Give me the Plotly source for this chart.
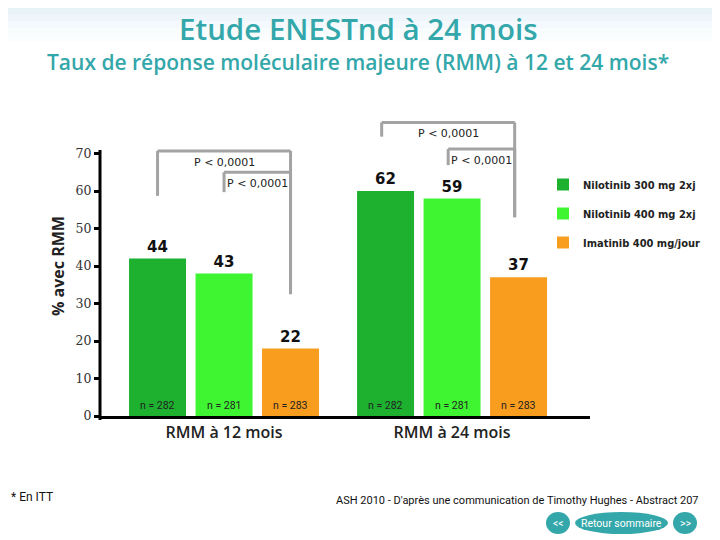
import plotly.graph_objects as go

# Données
categories = ["RMM à 12 mois", "RMM à 24 mois"]
series = ["Nilotinib 300 mg 2xj", "Nilotinib 400 mg 2xj", "Imatinib 400 mg/jour"]
colors = ["#1DB12F", "#3FF532", "#F99D1F"]
# hauteurs des barres telles que dessinées
heights = [
    [42, 60],
    [38, 58],
    [18, 37],
]
# valeurs affichées au-dessus des barres
labels = [
    ["44", "62"],
    ["43", "59"],
    ["22", "37"],
]
n_labels = [
    ["n = 282", "n = 282"],
    ["n = 281", "n = 281"],
    ["n = 283", "n = 283"],
]
p_text = "P < 0,0001"
y_ticks = [0, 10, 20, 30, 40, 50, 60, 70]

# mise en page : la page html décale la figure de 8 px (marge du body)
W, H = 720, 540
OFF = 8
PLOT_L, PLOT_R, PLOT_T, PLOT_B = 100, 590, 116, 416   # pixels de la référence
PW, PH = PLOT_R - PLOT_L, PLOT_B - PLOT_T
Y_MAX = 80
X_RANGE = [-0.544, 1.605]
BARGAP = 0.125
SLOT = (1 - BARGAP) / 3
TEAL = "#33A7AA"
GREY = "#A3A3A3"
NARROW = "Liberation Sans Narrow, Roboto"


def px_x(px):
    return (px - PLOT_L) / PW


def px_y(py):
    return (PLOT_B - py) / PH


def text_at(px, py, txt, font, xanchor="center"):
    return dict(x=px_x(px), y=px_y(py), xref="paper", yref="paper", text=txt,
                showarrow=False, xanchor=xanchor, yanchor="middle", font=font)


fig = go.Figure()
for i, name in enumerate(series):
    fig.add_trace(go.Bar(
        x=[0, 1], y=heights[i], name=name, marker_color=colors[i],
        marker_line_width=0, text=labels[i], textposition="outside",
        textfont=dict(size=15, color="#111111", family="DejaVu Sans", weight="bold"),
        cliponaxis=False, legendgroup=str(i),
    ))

annotations = []
shapes = []

# n = ... dans le bas des barres
for i in range(3):
    for g in range(2):
        annotations.append(dict(
            x=g + (i - 1) * SLOT, y=0, xref="x", yref="y", text=n_labels[i][g],
            showarrow=False, xanchor="center", yanchor="bottom", yshift=2,
            font=dict(size=10.5, color="#222222", family=NARROW),
        ))

# crochets de significativité : (groupe, barre gauche, haut, bas gauche, bas droit)
brackets = [
    (0, 0, 70.7, 58.7, 32.5),
    (0, 1, 65.0, 59.7, 32.5),
    (1, 0, 78.3, 74.5, 53.0),
    (1, 1, 71.2, 66.9, 53.0),
]
for g, i, top, lb, rb in brackets:
    x0 = g + (i - 1) * SLOT - 0.017 * g
    x1 = g + SLOT - 0.017 * g
    for xa, xb, ya, yb in [(x0, x0, lb, top), (x0, x1, top, top), (x1, x1, rb, top)]:
        shapes.append(dict(type="line", xref="x", yref="y", x0=xa, x1=xb, y0=ya, y1=yb,
                           line=dict(color=GREY, width=3)))
    annotations.append(dict(
        x=(x0 + x1) / 2, y=top, xref="x", yref="y", text=p_text, showarrow=False,
        xanchor="center", yanchor="top", yshift=-3,
        font=dict(size=11, color="#222222", family="DejaVu Sans"),
    ))

# axe vertical
shapes.append(dict(type="line", xref="paper", yref="paper", x0=0, x1=0,
                   y0=px_y(420), y1=px_y(150), line=dict(color="black", width=3)))

# dégradé léger en haut de page
for k, op in enumerate([0.5, 0.38, 0.27, 0.18, 0.1, 0.05]):
    shapes.append(dict(type="rect", xref="paper", yref="paper", layer="below",
                       x0=px_x(0), x1=px_x(W), y0=px_y(k * 7), y1=px_y(k * 7 + 7),
                       fillcolor="#BFDDF0", opacity=op, line=dict(width=0)))

# titres
title = text_at(358, 28.5, "Etude ENESTnd à 24 mois",
                dict(size=29.5, color=TEAL, family="Open Sans", weight=600))
title["borderpad"] = 0
annotations.append(title)
annotations.append(text_at(358, 62, "Taux de réponse moléculaire majeure (RMM) à 12 et 24 mois*",
                           dict(size=21, color=TEAL, family="Open Sans", weight=600)))

# pied de page
annotations.append(text_at(9, 497, "* En ITT",
                           dict(size=12, color="#111111", family=NARROW), xanchor="left"))
annotations.append(text_at(701, 500,
                           "ASH 2010 - D'après une communication de Timothy Hughes - Abstract 207",
                           dict(size=11, color="#111111", family=NARROW), xanchor="right"))

# boutons de navigation
buttons = [("<<", 546, 570), ("Retour sommaire", 575, 668), (">>", 673, 697)]
for txt, a, b in buttons:
    shapes.append(dict(type="circle", xref="paper", yref="paper",
                       x0=px_x(a), x1=px_x(b), y0=px_y(534), y1=px_y(512),
                       fillcolor=TEAL, line=dict(width=0)))
    annotations.append(text_at((a + b) / 2, 523, txt,
                               dict(size=10.5, color="white", family=NARROW)))

fig.update_layout(
    width=W, height=H,
    margin=dict(l=PLOT_L - OFF, r=W - PLOT_R + OFF, t=PLOT_T - OFF, b=H - PLOT_B + OFF, pad=0),
    plot_bgcolor="white", paper_bgcolor="white",
    barmode="group", bargap=BARGAP, bargroupgap=0.143,
    showlegend=True,
    legend=dict(x=px_x(543), y=px_y(170), xanchor="left", yanchor="top",
                bgcolor="rgba(0,0,0,0)", tracegroupgap=10, itemwidth=30,
                font=dict(size=11, color="#222222", family="DejaVu Sans Condensed, DejaVu Sans",
                          weight="bold")),
    xaxis=dict(range=X_RANGE, tickvals=[0, 1], ticktext=categories, ticks="",
               showline=True, linecolor="black", linewidth=3, showgrid=False, zeroline=False,
               automargin=False,
               tickfont=dict(size=16, color="#222222", family="Open Sans", weight=600)),
    yaxis=dict(range=[0, Y_MAX], tickvals=y_ticks, ticks="outside", ticklen=5, tickwidth=3,
               tickcolor="black", showline=False, showgrid=False, zeroline=False,
               automargin=False,
               tickfont=dict(size=12.5, color="#333333", family="DejaVu Serif"),
               title=dict(text="<b>% avec RMM</b>", standoff=6,
                          font=dict(size=16, color="#222222", family="Open Sans"))),
    shapes=shapes, annotations=annotations,
)

fig.write_html("out.html")
